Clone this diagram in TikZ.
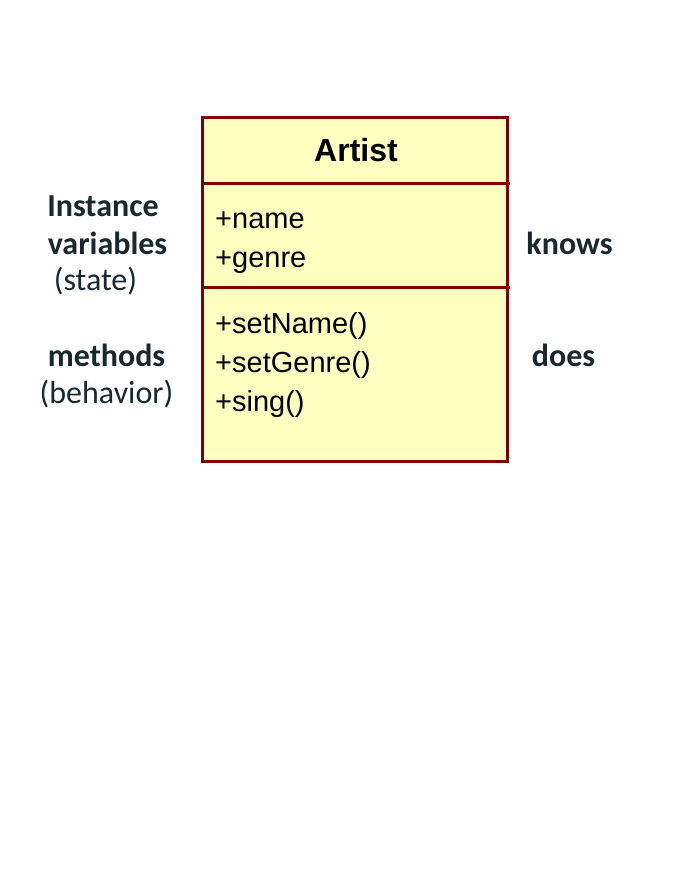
\documentclass[tikz,border=0pt]{standalone}
\usepackage{fontspec}
\newfontfamily\lblfont{Carlito}
\newfontfamily\umlfont{Liberation Sans}
\definecolor{umlred}{RGB}{128,0,0}
\definecolor{umlfill}{RGB}{255,255,192}
\definecolor{lbltext}{RGB}{23,40,47}
\tikzset{
  lbl/.style={anchor=base,inner sep=0pt,text=lbltext,font=\lblfont\fontsize{32}{38}\selectfont},
  lblb/.style={lbl,font=\lblfont\bfseries\fontsize{32}{38}\selectfont},
  member/.style={anchor=base west,inner sep=0pt,font=\umlfont\fontsize{29}{34}\selectfont}
}
\begin{document}
\begin{tikzpicture}[x=1pt,y=-1pt]
 			\useasboundingbox (0,0) rectangle (674,875);
 			\draw[umlred,line width=3pt,fill=umlfill] (202,117) rectangle (507,461);
 			\draw[umlred,line width=3pt] (202,183) -- (510,183);
 			\draw[umlred,line width=3pt] (202,287) -- (510,287);
 			\node[anchor=base,inner sep=0pt,font=\umlfont\bfseries\fontsize{32}{38}\selectfont] (cls) at (356,161) {Artist};
 			\node[member] (name) at (215,228) {+name};
 			\node[member] (genre) at (215,267) {+genre};
 			\node[member] (setname) at (215,333) {+setName()};
 			\node[member] (setgenre) at (215,372) {+setGenre()};
 			\node[member] (sing) at (215,411) {+sing()};
 			\node[lblb] (inst) at (103,216) {Instance};
 			\node[lblb] (vars) at (107.5,254) {variables};
 			\node[lbl] (state) at (95.5,290) {(state)};
 			\node[lblb] (meth) at (106.5,366) {methods};
 			\node[lbl] (behav) at (106.5,403) {(behavior)};
 			\node[lblb] (knows) at (569.5,254) {knows};
 			\node[lblb] (does) at (563.5,366) {does};
 		\end{tikzpicture}
\end{document}
